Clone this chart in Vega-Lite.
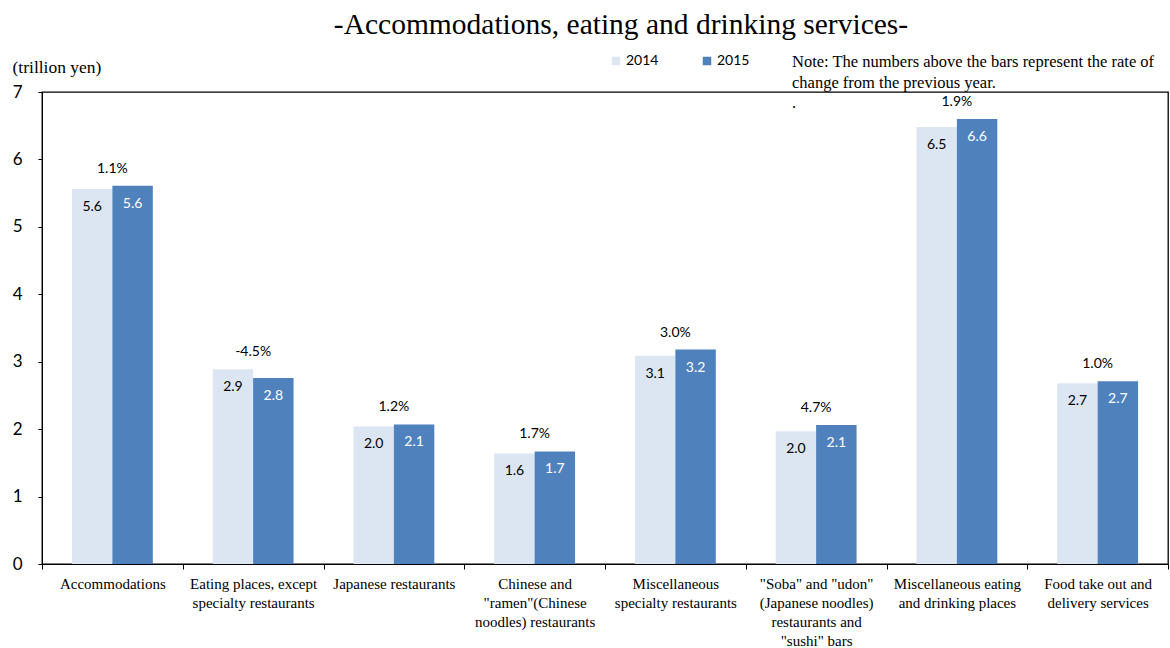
{
  "$schema": "https://vega.github.io/schema/vega-lite/v6.json",
  "width": 1126,
  "height": 472,
  "autosize": "none",
  "padding": {"left": 42, "top": 92, "right": 2, "bottom": 84},
  "background": "white",
  "title": {
    "text": "-Accommodations, eating and drinking services-",
    "font": "Liberation Serif",
    "fontSize": 29.5,
    "fontWeight": "normal",
    "color": "black",
    "anchor": "middle",
    "baseline": "bottom",
    "offset": -15,
    "dx": 16
  },
  "config": {
    "view": {"stroke": "black", "strokeWidth": 1.3},
    "axis": {"domainColor": "black", "tickColor": "black", "labelColor": "black", "grid": false}
  },
  "data": {
    "values": [
      {"category": "Accommodations", "year": "2014", "value": 5.56, "rate": "1.1%"},
      {"category": "Accommodations", "year": "2015", "value": 5.61, "rate": "1.1%"},
      {"category": "Eating places, except|specialty restaurants", "year": "2014", "value": 2.89, "rate": "-4.5%"},
      {"category": "Eating places, except|specialty restaurants", "year": "2015", "value": 2.76, "rate": "-4.5%"},
      {"category": "Japanese restaurants", "year": "2014", "value": 2.04, "rate": "1.2%"},
      {"category": "Japanese restaurants", "year": "2015", "value": 2.07, "rate": "1.2%"},
      {"category": "Chinese and|\"ramen\"(Chinese|noodles) restaurants", "year": "2014", "value": 1.64, "rate": "1.7%"},
      {"category": "Chinese and|\"ramen\"(Chinese|noodles) restaurants", "year": "2015", "value": 1.67, "rate": "1.7%"},
      {"category": "Miscellaneous|specialty restaurants", "year": "2014", "value": 3.09, "rate": "3.0%"},
      {"category": "Miscellaneous|specialty restaurants", "year": "2015", "value": 3.18, "rate": "3.0%"},
      {"category": "\"Soba\" and \"udon\"|(Japanese noodles)|restaurants and|\"sushi\" bars", "year": "2014", "value": 1.97, "rate": "4.7%"},
      {"category": "\"Soba\" and \"udon\"|(Japanese noodles)|restaurants and|\"sushi\" bars", "year": "2015", "value": 2.06, "rate": "4.7%"},
      {"category": "Miscellaneous eating|and drinking places", "year": "2014", "value": 6.48, "rate": "1.9%"},
      {"category": "Miscellaneous eating|and drinking places", "year": "2015", "value": 6.6, "rate": "1.9%"},
      {"category": "Food take out and|delivery services", "year": "2014", "value": 2.68, "rate": "1.0%"},
      {"category": "Food take out and|delivery services", "year": "2015", "value": 2.71, "rate": "1.0%"}
    ]
  },
  "transform": [
    {"joinaggregate": [{"op": "max", "field": "value", "as": "maxv"}], "groupby": ["category"]}
  ],
  "encoding": {
    "x": {
      "field": "category",
      "type": "nominal",
      "sort": null,
      "scale": {"paddingInner": 0, "paddingOuter": 0},
      "axis": {
        "title": null,
        "labelAngle": 0,
        "labelExpr": "split(datum.label, '|')",
        "labelFont": "Liberation Serif",
        "labelFontSize": 15,
        "labelLineHeight": 19,
        "labelBaseline": "top",
        "labelLimit": 300,
        "tickBand": "extent",
        "tickSize": 5,
        "labelPadding": 7
      }
    }
  },
  "layer": [
    {
      "mark": {"type": "bar"},
      "encoding": {
        "xOffset": {"field": "year", "type": "nominal", "scale": {"paddingInner": 0, "paddingOuter": 0.74}},
        "y": {
          "field": "value",
          "type": "quantitative",
          "scale": {"domain": [0, 7], "nice": false},
          "axis": {
            "values": [0, 1, 2, 3, 4, 5, 6, 7],
            "format": "d",
            "title": "(trillion yen)",
            "titleAngle": 0,
            "titleAlign": "left",
            "titleBaseline": "middle",
            "titleX": -30,
            "titleY": -25,
            "titleFont": "Liberation Serif",
            "titleFontSize": 17.5,
            "titleFontWeight": "normal",
            "titleColor": "black",
            "labelFont": "Lato",
            "labelFontSize": 17,
            "tickSize": 4,
            "labelPadding": 16
          }
        },
        "color": {
          "field": "year",
          "type": "nominal",
          "scale": {"domain": ["2014", "2015"], "range": ["#dce6f2", "#4f81bd"]},
          "legend": {
            "orient": "none",
            "legendX": 567,
            "legendY": -38,
            "direction": "horizontal",
            "padding": 0,
            "symbolType": "square",
            "symbolSize": 72,
            "symbolStrokeWidth": 0,
            "labelFont": "Lato",
            "labelFontSize": 14,
            "labelColor": "black",
            "labelOffset": 3,
            "columnPadding": 41,
            "title": ["Note: The numbers above the bars represent the rate of", "change from the previous year.", "."],
            "titleOrient": "right",
            "titleAnchor": "start",
            "titleBaseline": "top",
            "titleFont": "Liberation Serif",
            "titleFontSize": 16.5,
            "titleFontWeight": "normal",
            "titleColor": "black",
            "titleLineHeight": 20.5,
            "titlePadding": 43,
            "titleLimit": 500
          }
        }
      }
    },
    {
      "mark": {"type": "text", "font": "Lato", "fontSize": 14, "baseline": "middle", "dy": 18},
      "encoding": {
        "xOffset": {"field": "year", "type": "nominal", "scale": {"paddingInner": 0, "paddingOuter": 0.74}},
        "y": {"field": "value", "type": "quantitative"},
        "text": {"field": "value", "type": "quantitative", "format": ".1f"},
        "color": {"condition": {"test": "datum.year == '2015'", "value": "white"}, "value": "black"}
      }
    },
    {
      "transform": [{"filter": "datum.year == '2015'"}],
      "mark": {"type": "text", "font": "Lato", "fontSize": 14, "baseline": "middle", "dy": -17, "color": "black"},
      "encoding": {
        "y": {"field": "maxv", "type": "quantitative"},
        "text": {"field": "rate", "type": "nominal"}
      }
    }
  ]
}
